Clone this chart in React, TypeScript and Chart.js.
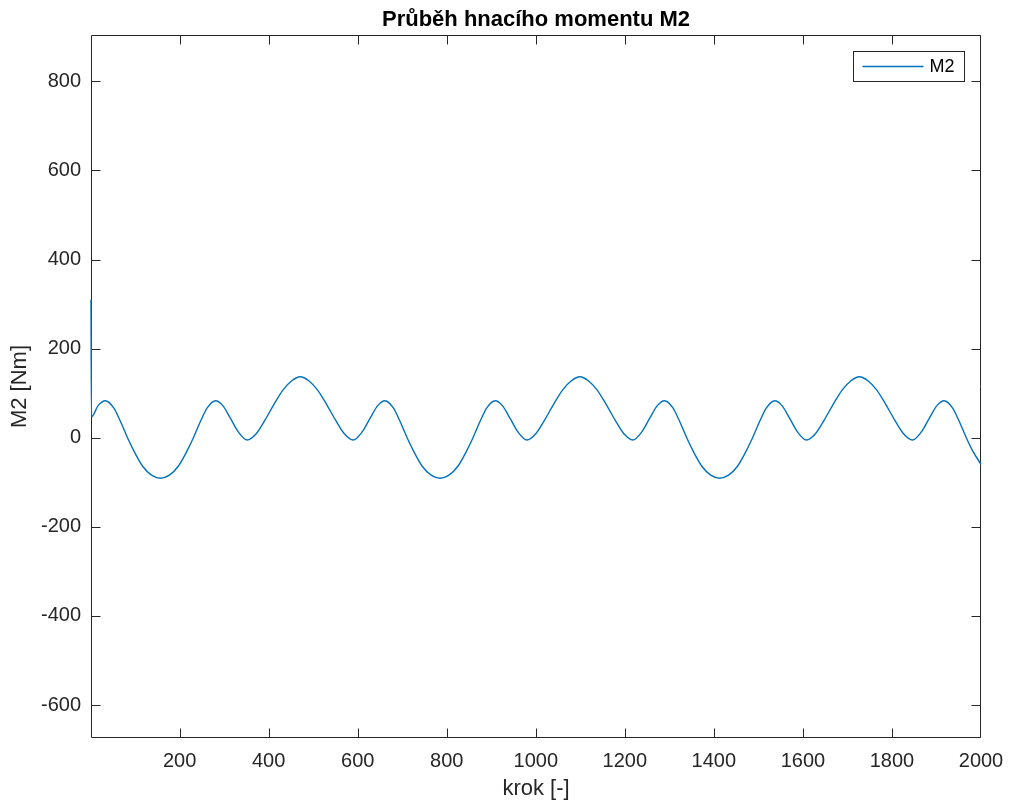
import React, { useEffect, useRef } from "react";
import { Chart, registerables } from "chart.js";

Chart.register(...registerables);

// Simulation step (x) and driving torque M2 in Nm (y)
const steps = [
  1, 2, 17, 33, 52, 67, 83, 97, 117, 137,
  157, 177, 197, 217, 231, 247, 262, 281, 297, 314, 332, 352, 372, 392, 412, 432, 452, 471,
  490, 510, 530, 550, 570, 590, 610, 628, 645, 661, 680, 695, 711, 725, 745, 765,
  785, 805, 825, 845, 859, 875, 890, 909, 925, 942, 960, 980, 1000, 1020, 1040, 1060, 1080, 1099,
  1118, 1138, 1158, 1178, 1198, 1218, 1238, 1256, 1273, 1289, 1308, 1323, 1339, 1353, 1373, 1393,
  1413, 1433, 1453, 1473, 1487, 1503, 1518, 1537, 1553, 1570, 1588, 1608, 1628, 1648, 1668, 1688, 1708, 1727,
  1746, 1766, 1786, 1806, 1826, 1846, 1866, 1884, 1901, 1917, 1936, 1951, 1967, 1981, 2000,
];

const m2Values = [
  310, 47, 72, 83, 67, 37, 0, -29, -64, -84,
  -91, -84, -64, -29, 0, 37, 67, 83, 72, 44, 13, -5, 9, 40, 75, 107, 128, 137,
  128, 107, 75, 40, 9, -5, 13, 44, 72, 83, 67, 37, 0, -29, -64, -84,
  -91, -84, -64, -29, 0, 37, 67, 83, 72, 44, 13, -5, 9, 40, 75, 107, 128, 137,
  128, 107, 75, 40, 9, -5, 13, 44, 72, 83, 67, 37, 0, -29, -64, -84,
  -91, -84, -64, -29, 0, 37, 67, 83, 72, 44, 13, -5, 9, 40, 75, 107, 128, 137,
  128, 107, 75, 40, 9, -5, 13, 44, 72, 83, 67, 37, 0, -29, -60,
];

const xTickValues = [200, 400, 600, 800, 1000, 1200, 1400, 1600, 1800, 2000];
const yTickValues = [-600, -400, -200, 0, 200, 400, 600, 800];
const xLimits = [1, 2000];
const yLimits = [-674, 904];

const chartTitle = "Průběh hnacího momentu M2";
const xLabel = "krok [-]";
const yLabel = "M2 [Nm]";
const seriesName = "M2";

const FONT = "'Liberation Sans', Arial, Helvetica, sans-serif";
const AXIS = "#262626";
const LINE = "#0072BD";

export default function App() {
  const canvasRef = useRef<HTMLCanvasElement>(null);

  useEffect(() => {
    const canvas = canvasRef.current;
    if (!canvas) return;

    const decor = {
      id: "matlabDecor",
      beforeDatasetsDraw(chart: any) {
        const { ctx, chartArea: a, scales } = chart;
        const xs = scales.x;
        const ys = scales.y;
        ctx.save();
        const L = Math.round(a.left) + 0.5;
        const R = Math.round(a.right) - 0.5;
        const T = Math.round(a.top) + 0.5;
        const B = Math.round(a.bottom) - 0.5;
        ctx.strokeStyle = AXIS;
        ctx.lineWidth = 1;
        ctx.beginPath();
        ctx.rect(L, T, R - L, B - T);
        const tl = 9;
        xTickValues.forEach((v) => {
          const p = Math.min(R, Math.max(L, Math.round(xs.getPixelForValue(v)) + 0.5));
          ctx.moveTo(p, B);
          ctx.lineTo(p, B - tl);
          ctx.moveTo(p, T);
          ctx.lineTo(p, T + tl);
        });
        yTickValues.forEach((v) => {
          const p = Math.min(B, Math.max(T, Math.round(ys.getPixelForValue(v)) + 0.5));
          ctx.moveTo(L, p);
          ctx.lineTo(L + tl, p);
          ctx.moveTo(R, p);
          ctx.lineTo(R - tl, p);
        });
        ctx.stroke();
        ctx.restore();
      },
      afterDraw(chart: any) {
        const { ctx, chartArea: a } = chart;
        ctx.save();
        const cx = (a.left + a.right) / 2;
        // title
        ctx.fillStyle = "#000";
        ctx.font = `bold 22px ${FONT}`;
        ctx.textAlign = "center";
        ctx.textBaseline = "alphabetic";
        ctx.fillText(chartTitle, cx, 26);
        // axis labels
        ctx.fillStyle = AXIS;
        ctx.font = `22px ${FONT}`;
        ctx.fillText(xLabel, cx, 795);
        ctx.save();
        ctx.translate(25.5, (a.top + a.bottom) / 2);
        ctx.rotate(-Math.PI / 2);
        ctx.fillText(yLabel, 0, 0);
        ctx.restore();

        // legend
        const bx = Math.round(a.right) - 127.5;
        const by = Math.round(a.top) + 16.5;
        const bw = 111;
        const bh = 30;
        ctx.fillStyle = "#fff";
        ctx.fillRect(bx, by, bw, bh);
        ctx.strokeStyle = AXIS;
        ctx.lineWidth = 1;
        ctx.strokeRect(bx, by, bw, bh);
        ctx.strokeStyle = LINE;
        ctx.lineWidth = 1.3;
        ctx.beginPath();
        ctx.moveTo(bx + 9, by + bh / 2);
        ctx.lineTo(bx + 70, by + bh / 2);
        ctx.stroke();
        ctx.fillStyle = "#000";
        ctx.font = `18px ${FONT}`;
        ctx.textAlign = "left";
        ctx.textBaseline = "middle";
        ctx.fillText(seriesName, bx + 76, by + bh / 2 + 1);
        ctx.restore();
      },
    };

    const chart = new Chart(canvas, {
      type: "line",
      data: {
        datasets: [
          {
            label: seriesName,
            data: steps.map((s, i) => ({ x: s, y: m2Values[i] })),
            borderColor: LINE,
            backgroundColor: LINE,
            borderWidth: 1.4,
            pointRadius: 0,
            fill: false,
            cubicInterpolationMode: "monotone",
            clip: 2,
          },
        ],
      },
      options: {
        animation: false,
        responsive: false,
        maintainAspectRatio: false,
        devicePixelRatio: 1,
        events: [],
        layout: { padding: { left: 0, right: 28, top: 35, bottom: 0 } },
        plugins: {
          legend: { display: false },
          title: { display: false },
          tooltip: { enabled: false },
        },
        scales: {
          x: {
            type: "linear",
            min: xLimits[0],
            max: xLimits[1],
            afterBuildTicks: (s: any) => {
              s.ticks = xTickValues.map((v) => ({ value: v }));
            },
            afterFit: (s: any) => {
              s.height = 64;
              s.paddingLeft = 0;
              s.paddingRight = 0;
            },
            grid: { display: false, drawTicks: false },
            border: { display: false },
            ticks: {
              autoSkip: false,
              maxRotation: 0,
              padding: 11,
              color: AXIS,
              font: { family: FONT, size: 20 },
              callback: (v: any) => String(v),
            },
          },
          y: {
            type: "linear",
            min: yLimits[0],
            max: yLimits[1],
            afterBuildTicks: (s: any) => {
              s.ticks = yTickValues.map((v) => ({ value: v }));
            },
            afterFit: (s: any) => {
              s.width = 91;
              s.paddingTop = 0;
              s.paddingBottom = 0;
            },
            grid: { display: false, drawTicks: false },
            border: { display: false },
            ticks: {
              autoSkip: false,
              padding: 10,
              color: AXIS,
              font: { family: FONT, size: 20 },
              callback: (v: any) => String(v),
            },
          },
        },
      },
      plugins: [decor],
    });

    return () => chart.destroy();
  }, []);

  return (
    <div style={{ position: "absolute", left: 0, top: 0, width: 1009, height: 802, background: "#fff" }}>
      <canvas ref={canvasRef} width={1009} height={802} style={{ display: "block" }} />
    </div>
  );
}
